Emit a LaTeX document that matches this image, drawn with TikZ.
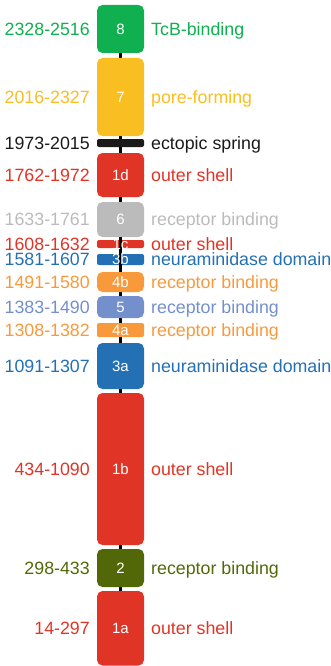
\documentclass[tikz,border=0pt]{standalone}
\usepackage{fontspec}
\setmainfont{Liberation Sans}
\usetikzlibrary{backgrounds}
\definecolor{cgreen}{RGB}{16,176,80}
\definecolor{cyellow}{RGB}{249,190,34}
\definecolor{cblack}{RGB}{26,26,26}
\definecolor{cred}{RGB}{224,52,38}
\definecolor{cgrey}{RGB}{187,187,187}
\definecolor{cblue}{RGB}{36,112,181}
\definecolor{corange}{RGB}{248,154,60}
\definecolor{clav}{RGB}{115,144,204}
\definecolor{colive}{RGB}{82,104,8}
\newcommand\mydomain[8]{%
  \node[box, fill=#4, minimum height={(#3-#2)*1pt}, #8] (#1) at (120.5,{(#2+#3)/2}) {#5};
  \node[lab, text=#4, anchor=base east] (#1l) at (90,{(#2+#3)/2+6.4}) {#6};
  \node[lab, text=#4, anchor=base west] (#1r) at (151,{(#2+#3)/2+6.4}) {#7};}
\begin{document}
\begin{tikzpicture}[x=1pt,y=-1pt,
  box/.style={rectangle, minimum width=47pt, inner sep=0pt, rounded corners=5.5pt,
    text=white, font=\fontsize{15}{15}\selectfont},
  thin/.style={rounded corners=2pt},
  lab/.style={inner sep=0pt, font=\fontsize{17.8}{17.8}\selectfont},
  num/.style={inner sep=0pt, text=white, font=\fontsize{15}{15}\selectfont},
  spine/.style={draw=black, line width=3.5pt}]
\useasboundingbox (0,0) rectangle (331,666);
\mydomain{b8}{5}{53}{cgreen}{8}{2328-2516}{TcB-binding}{}
\mydomain{b7}{58}{136}{cyellow}{7}{2016-2327}{pore-forming}{}
\mydomain{bsp}{139}{147}{cblack}{}{1973-2015}{ectopic spring}{thin}
\mydomain{b1d}{153}{197}{cred}{1d}{1762-1972}{outer shell}{}
\mydomain{b6}{202}{237}{cgrey}{6}{1633-1761}{receptor binding}{}
\mydomain{b1c}{240}{248}{cred}{}{1608-1632}{outer shell}{thin}
\mydomain{b3b}{254}{265}{cblue}{}{1581-1607}{neuraminidase domain}{thin}
\mydomain{b4b}{272}{292}{corange}{4b}{1491-1580}{receptor binding}{}
\mydomain{b5}{296}{318}{clav}{5}{1383-1490}{receptor binding}{}
\mydomain{b4a}{323}{337}{corange}{4a}{1308-1382}{receptor binding}{thin}
\mydomain{b3a}{343}{389}{cblue}{3a}{1091-1307}{neuraminidase domain}{}
\mydomain{b1b}{393}{545}{cred}{1b}{434-1090}{outer shell}{}
\mydomain{b2}{549}{587}{colive}{2}{298-433}{receptor binding}{}
\mydomain{b1a}{591}{665.5}{cred}{1a}{14-297}{outer shell}{}
\begin{scope}[on background layer]
  \draw[spine] (b8) -- (b7);
  \draw[spine] (b7) -- (bsp);
  \draw[spine] (bsp) -- (b1d);
  \draw[spine] (b1d) -- (b6);
  \draw[spine] (b4b) -- (b5);
  \draw[spine] (b5) -- (b4a);
  \draw[spine] (b4a) -- (b3a);
  \draw[spine] (b3a) -- (b1b);
  \draw[spine] (b1b) -- (b2);
  \draw[spine] (b2) -- (b1a);
\end{scope}
\draw[spine] (b6.south) -- (b4b.north);
\node[num] (t1c) at (b1c.center) {1c};
\node[num] (t3b) at (b3b.center) {3b};
\end{tikzpicture}
\end{document}
